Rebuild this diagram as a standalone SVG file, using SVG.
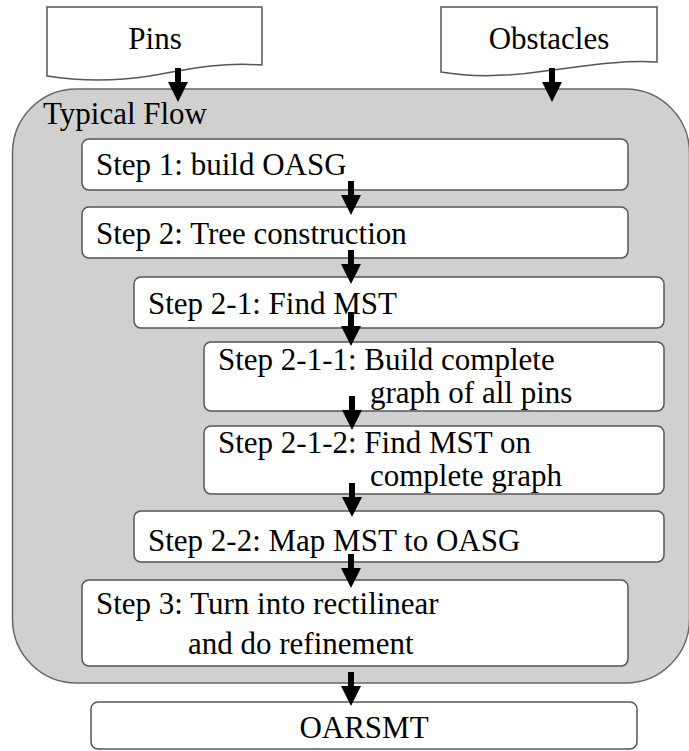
<svg xmlns="http://www.w3.org/2000/svg" width="689" height="751" viewBox="0 0 689 751">
  <defs>
    <!-- block arrow pointing down, origin at the tail centre -->
    <path id="blk" d="M-3,0 H3 V14 H10 L0,34 L-10,14 H-3 Z" fill="#000000"/>
  </defs>

  <rect width="689" height="751" fill="#ffffff"/>

  <!-- inputs -->
  <g id="pins">
    <path d="M47,7 H262 V65 C215,62 185,70 150,76 C112,82 78,81 47,76 Z" fill="#ffffff" stroke="#555555" stroke-width="1.5"/>
    <text x="155" y="49" text-anchor="middle" font-family="Liberation Serif" font-size="31" fill="#000000">Pins</text>
  </g>
  <g id="obstacles">
    <path d="M441,7 H657 V62 C620,60 585,66 545,71 C505,77 470,77 441,72 Z" fill="#ffffff" stroke="#555555" stroke-width="1.5"/>
    <text x="549" y="49" text-anchor="middle" font-family="Liberation Serif" font-size="31" fill="#000000">Obstacles</text>
  </g>

  <!-- flow container -->
  <g id="typical-flow">
    <rect x="12.5" y="89" width="677" height="594" rx="64" ry="64" fill="#d0d0d0" stroke="#666666" stroke-width="1.5"/>
    <text x="43" y="124" font-family="Liberation Serif" font-size="31" fill="#000000">Typical Flow</text>
  </g>

  <g id="step1">
    <rect x="82" y="139" width="546" height="51" rx="7" fill="#ffffff" stroke="#555555" stroke-width="1.5"/>
    <text x="96" y="175" font-family="Liberation Serif" font-size="31" fill="#000000">Step 1: build OASG</text>
  </g>
  <g id="step2">
    <rect x="82" y="207" width="546" height="51" rx="7" fill="#ffffff" stroke="#555555" stroke-width="1.5"/>
    <text x="96" y="244" font-family="Liberation Serif" font-size="31" fill="#000000">Step 2: Tree construction</text>
  </g>
  <g id="step2-1">
    <rect x="134" y="277" width="530" height="51" rx="7" fill="#ffffff" stroke="#555555" stroke-width="1.5"/>
    <text x="148" y="314" font-family="Liberation Serif" font-size="31" fill="#000000">Step 2-1: Find MST</text>
  </g>
  <g id="step2-1-1">
    <rect x="204" y="342" width="460" height="69" rx="7" fill="#ffffff" stroke="#555555" stroke-width="1.5"/>
    <text x="218" y="370" font-family="Liberation Serif" font-size="31" fill="#000000">Step 2-1-1: Build complete</text>
    <text x="370" y="403" font-family="Liberation Serif" font-size="31" fill="#000000">graph of all pins</text>
  </g>
  <g id="step2-1-2">
    <rect x="204" y="426" width="460" height="68" rx="7" fill="#ffffff" stroke="#555555" stroke-width="1.5"/>
    <text x="218" y="453" font-family="Liberation Serif" font-size="31" fill="#000000">Step 2-1-2: Find MST on</text>
    <text x="370" y="486" font-family="Liberation Serif" font-size="31" fill="#000000">complete graph</text>
  </g>
  <g id="step2-2">
    <rect x="134" y="511" width="530" height="51" rx="7" fill="#ffffff" stroke="#555555" stroke-width="1.5"/>
    <text x="148" y="551" font-family="Liberation Serif" font-size="31" fill="#000000">Step 2-2: Map MST to OASG</text>
  </g>
  <g id="step3">
    <rect x="82" y="580" width="546" height="86" rx="7" fill="#ffffff" stroke="#555555" stroke-width="1.5"/>
    <text x="96" y="614" font-family="Liberation Serif" font-size="31" fill="#000000">Step 3: Turn into rectilinear</text>
    <text x="188" y="654" font-family="Liberation Serif" font-size="31" fill="#000000">and do refinement</text>
  </g>

  <!-- output -->
  <g id="oarsmt">
    <rect x="91" y="702" width="546" height="47" rx="7" fill="#ffffff" stroke="#555555" stroke-width="1.5"/>
    <text x="364" y="738" text-anchor="middle" font-family="Liberation Serif" font-size="31" fill="#000000">OARSMT</text>
  </g>

  <!-- connectors -->
  <g id="connectors">
    <use href="#blk" x="178" y="68"/>
    <use href="#blk" x="552" y="68"/>
    <use href="#blk" x="351" y="181"/>
    <use href="#blk" x="351" y="250"/>
    <use href="#blk" x="351" y="312"/>
    <use href="#blk" x="352" y="396"/>
    <use href="#blk" x="352" y="483"/>
    <use href="#blk" x="351" y="554"/>
    <use href="#blk" x="351" y="672"/>
  </g>
</svg>
